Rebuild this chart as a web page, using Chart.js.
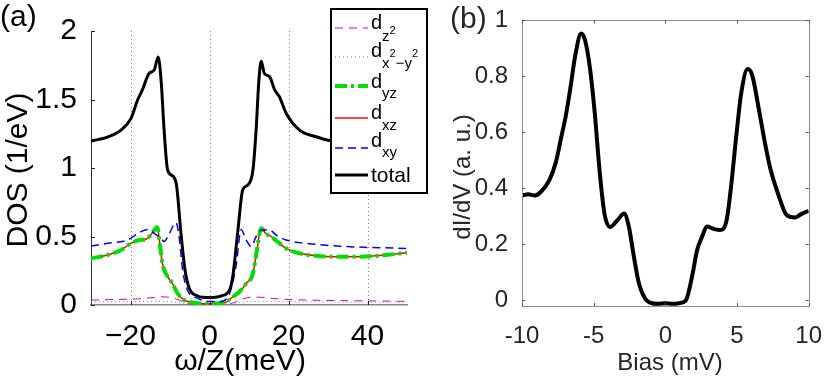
<!DOCTYPE html>
<html>
<head>
<meta charset="utf-8">
<script src="https://cdn.jsdelivr.net/npm/chart.js@4.4.1/dist/chart.umd.min.js"></script>
<style>
  html, body { margin: 0; padding: 0; background: #fff; }
  #wrap { position: relative; width: 830px; height: 379px; }
  #chartA { position: absolute; left: 0; top: 0; }
  #chartB { position: absolute; left: 415px; top: 0; }
</style>
</head>
<body>
<div id="wrap">
  <canvas id="chartA" width="440" height="379"></canvas>
  <canvas id="chartB" width="415" height="379"></canvas>
</div>
<script>
// ---- panel (a): orbital resolved DOS ----
const omegaTicks = [-20, 0, 20, 40];
const dosTicks = [0, 0.5, 1, 1.5, 2];

const totalX = [-30, -25.8, -22.4, -19.9, -18.2, -17, -15.3, -14, -13, -12.2, -11.5, -10.6, -9.1, -8.3, -7.3, -6.2, -5.1, -3, -1.5, 0,
  1.5, 3, 5.1, 5.9, 7.2, 8.4, 9.7, 11, 11.8, 12.5, 13.1, 13.9, 15.2, 16.5, 17.7, 19.4, 22.8, 27, 30.4, 35, 40, 45, 50];
const totalY = [1.197, 1.226, 1.277, 1.36, 1.496, 1.57, 1.69, 1.715, 1.81, 1.62, 1.28, 0.985, 0.937, 0.864, 0.547, 0.255, 0.12, 0.066, 0.056, 0.054,
  0.056, 0.066, 0.11, 0.21, 0.547, 0.84, 0.876, 0.985, 1.277, 1.64, 1.78, 1.69, 1.667, 1.57, 1.52, 1.40, 1.277, 1.228, 1.20, 1.19, 1.185, 1.18, 1.18];

// d_xz and d_yz lie on top of each other
const xzX = [-30, -25.8, -22.5, -19.9, -17.8, -16.1, -14.9, -13.2, -12.5, -11.9, -10.6, -9.4, -8.1, -6.4, -3.9, 0,
  3.9, 5.9, 7.6, 9.3, 11, 12, 13.1, 14.3, 15.6, 16.9, 19.4, 22.8, 27, 31.2, 38, 44.7, 50];
const xzY = [0.34, 0.365, 0.40, 0.45, 0.474, 0.48, 0.51, 0.567, 0.426, 0.30, 0.207, 0.158, 0.085, 0.036, 0.017, 0.01,
  0.017, 0.06, 0.097, 0.158, 0.23, 0.40, 0.56, 0.52, 0.50, 0.47, 0.413, 0.377, 0.36, 0.353, 0.353, 0.365, 0.382];

const xyX = [-30, -25.8, -20.8, -17.4, -15.7, -14, -12.3, -11.5, -10.2, -8.5, -7.7, -6.8, -5.6, -3, 0,
  2.5, 5.1, 6.8, 8, 9.3, 10.6, 11.8, 13.1, 15.2, 16.9, 19.4, 24.5, 35.4, 50];
const xyY = [0.43, 0.45, 0.474, 0.535, 0.552, 0.523, 0.486, 0.463, 0.52, 0.60, 0.50, 0.255, 0.11, 0.049, 0.025,
  0.025, 0.085, 0.30, 0.552, 0.474, 0.426, 0.50, 0.547, 0.547, 0.51, 0.474, 0.45, 0.426, 0.413];

const z2X = [-30, -24, -18, -14, -12, -10, -8, -6, -4, 0, 4, 6, 8, 10, 12, 13.5, 16, 20, 25, 30, 40, 50];
const z2Y = [0.036, 0.04, 0.045, 0.055, 0.06, 0.055, 0.04, 0.015, 0.003, 0, 0.003, 0.015, 0.04, 0.055, 0.058, 0.055, 0.048, 0.04, 0.036, 0.033, 0.03, 0.027];

const x2y2X = [-30, -20, -14, -10, -7, -5, -3, 0, 3, 5, 7, 10, 14, 20, 30, 40, 50];
const x2y2Y = [0.022, 0.024, 0.026, 0.024, 0.015, 0.005, 0.001, 0, 0.001, 0.005, 0.015, 0.024, 0.026, 0.024, 0.022, 0.02, 0.02];

// ---- panel (b): measured dI/dV ----
const biasTicks = [-10, -5, 0, 5, 10];
const didvTicks = [0, 0.2, 0.4, 0.6, 0.8, 1];
const biasX = [-10, -9.57, -9.1, -8.66, -8.1, -7.64, -7.3, -6.96, -6.62, -6.28, -5.87, -5.6, -5.26, -4.92, -4.58, -4.24, -3.86, -3.33, -2.88, -2.54,
  -2.2, -1.86, -1.4, -0.95, -0.5, 0, 0.5, 0.95, 1.43, 1.88, 2.22, 2.56, 2.9, 3.35, 3.81, 4.27, 4.6, 4.95, 5.29, 5.74, 6.07, 6.53, 6.99, 7.33,
  7.89, 8.46, 9.03, 9.48, 10];
const didvY = [0.375, 0.379, 0.375, 0.389, 0.429, 0.493, 0.574, 0.655, 0.76, 0.876, 0.953, 0.929, 0.830, 0.667, 0.459, 0.308, 0.262, 0.287, 0.31, 0.262,
  0.158, 0.065, 0.006, -0.01, -0.012, -0.01, -0.012, -0.01, 0, 0.089, 0.18, 0.227, 0.264, 0.256, 0.251, 0.285, 0.413, 0.587, 0.738, 0.826, 0.803, 0.681, 0.552, 0.47,
  0.377, 0.305, 0.296, 0.308, 0.32];

const FONT = '"Liberation Sans", Arial, sans-serif';

function pts(xs, ys) {
  return xs.map((x, i) => ({ x: x, y: ys[i] }));
}

function inwardTicks(ctx, scale, values, from, dir, len, horizontal) {
  values.forEach(v => {
    const p = Math.round(scale.getPixelForValue(v)) + 0.5;
    ctx.beginPath();
    if (horizontal) { ctx.moveTo(p, from); ctx.lineTo(p, from + dir * len); }
    else { ctx.moveTo(from, p); ctx.lineTo(from + dir * len, p); }
    ctx.stroke();
  });
}

// legend text with sub/superscripts: [text, baseline offset, font size]
function legendLabel(ctx, x, base, parts) {
  let cx = x;
  parts.forEach(p => {
    ctx.font = p[2] + 'px ' + FONT;
    ctx.fillText(p[0], cx, base + p[1]);
    cx += ctx.measureText(p[0]).width;
  });
}

const panelA = {
  id: 'panelA',
  beforeDatasetsDraw(chart) {
    const { ctx, chartArea: a, scales: { x } } = chart;
    ctx.save();
    ctx.strokeStyle = '#808080';
    ctx.lineWidth = 1;
    ctx.setLineDash([1, 3]);
    omegaTicks.forEach(v => {
      const px = Math.round(x.getPixelForValue(v)) + 0.5;
      ctx.beginPath(); ctx.moveTo(px, a.top); ctx.lineTo(px, a.bottom); ctx.stroke();
    });
    ctx.restore();
  },
  afterDraw(chart) {
    const { ctx, chartArea: a, scales: { x, y } } = chart;
    ctx.save();
    ctx.strokeStyle = '#222';
    ctx.lineWidth = 1;
    inwardTicks(ctx, x, omegaTicks, a.bottom, -1, 4, true);
    inwardTicks(ctx, y, dosTicks, a.left, 1, 4, false);

    ctx.fillStyle = '#000';
    ctx.font = '30px ' + FONT;
    ctx.textAlign = 'left';
    ctx.textBaseline = 'alphabetic';
    ctx.fillText('(a)', 0, 26);
    ctx.textAlign = 'center';
    ctx.textBaseline = 'middle';
    ctx.fillText('\u03c9/Z(meV)', 240, 362);
    ctx.save();
    ctx.translate(19, 170);
    ctx.rotate(-Math.PI / 2);
    ctx.fillText('DOS (1/eV)', 0, 0);
    ctx.restore();

    // legend box
    ctx.fillStyle = '#fff';
    ctx.fillRect(331, 9, 96, 184);
    ctx.strokeStyle = '#000';
    ctx.lineWidth = 2;
    ctx.strokeRect(331, 9, 96, 184);

    const rows = [
      { y: 28, color: '#cc00cc', w: 1, dash: [8, 6] },
      { y: 57, color: '#808080', w: 1, dash: [1, 3] },
      { y: 86, color: '#00e000', w: 4, dash: [12, 4, 3, 4] },
      { y: 118, color: '#ff0000', w: 1.5, dash: [] },
      { y: 148, color: '#0000ff', w: 1.5, dash: [8, 5] },
      { y: 175, color: '#000', w: 3, dash: [] }
    ];
    rows.forEach(r => {
      ctx.strokeStyle = r.color;
      ctx.lineWidth = r.w;
      ctx.setLineDash(r.dash);
      ctx.beginPath(); ctx.moveTo(335, r.y); ctx.lineTo(368, r.y); ctx.stroke();
    });
    ctx.setLineDash([]);
    ctx.fillStyle = '#000';
    ctx.textAlign = 'left';
    ctx.textBaseline = 'alphabetic';
    legendLabel(ctx, 371, 28.5, [['d', 0, 20], ['z', 12, 15], ['2', 5, 11]]);
    legendLabel(ctx, 371, 57, [['d', 0, 20], ['x', 10.5, 15], ['2', 0, 11], ['\u2212y', 10.5, 15], ['2', 0, 11]]);
    legendLabel(ctx, 371, 88, [['d', 0, 20], ['yz', 10, 15]]);
    legendLabel(ctx, 371, 118.5, [['d', 0, 20], ['xz', 11, 15]]);
    legendLabel(ctx, 371, 147, [['d', 0, 20], ['xy', 10, 15]]);
    legendLabel(ctx, 371, 182, [['total', 0, 21]]);
    ctx.restore();
  }
};

const panelB = {
  id: 'panelB',
  afterDraw(chart) {
    const { ctx, chartArea: a, scales: { x, y } } = chart;
    ctx.save();
    ctx.strokeStyle = '#8c8c8c';
    ctx.lineWidth = 1;
    ctx.strokeRect(Math.round(a.left) + 0.5, Math.round(a.top) + 0.5, Math.round(a.right - a.left), Math.round(a.bottom - a.top));
    ctx.strokeStyle = '#555';
    inwardTicks(ctx, x, biasTicks, a.bottom, -1, 3, true);
    inwardTicks(ctx, x, biasTicks, a.top, 1, 3, true);
    inwardTicks(ctx, y, didvTicks, a.left, 1, 3, false);
    inwardTicks(ctx, y, didvTicks, a.right, -1, 3, false);

    ctx.fillStyle = '#262626';
    ctx.font = '30px ' + FONT;
    ctx.textAlign = 'left';
    ctx.textBaseline = 'alphabetic';
    ctx.fillText('(b)', 35, 28);
    ctx.font = '24px ' + FONT;
    ctx.textAlign = 'center';
    ctx.textBaseline = 'middle';
    ctx.fillText('Bias (mV)', 255, 363);
    ctx.save();
    ctx.translate(48, 177);
    ctx.rotate(-Math.PI / 2);
    ctx.fillText('dI/dV (a. u.)', 0, 0);
    ctx.restore();
    ctx.restore();
  }
};

const lineBase = { pointRadius: 0, fill: false, cubicInterpolationMode: 'monotone' };

new Chart(document.getElementById('chartA'), {
  type: 'line',
  data: {
    datasets: [
      Object.assign({ label: 'total', data: pts(totalX, totalY), borderColor: '#000', borderWidth: 3 }, lineBase),
      Object.assign({ label: 'dxy', data: pts(xyX, xyY), borderColor: '#0000ff', borderWidth: 1.5, borderDash: [8, 5] }, lineBase),
      Object.assign({ label: 'dyz', data: pts(xzX, xzY), borderColor: '#00e000', borderWidth: 4, borderDash: [12, 4, 3, 4] }, lineBase),
      Object.assign({ label: 'dxz', data: pts(xzX, xzY), borderColor: '#ff0000', borderWidth: 1.5 }, lineBase),
      Object.assign({ label: 'dx2-y2', data: pts(x2y2X, x2y2Y), borderColor: '#808080', borderWidth: 1, borderDash: [1, 3] }, lineBase),
      Object.assign({ label: 'dz2', data: pts(z2X, z2Y), borderColor: '#cc00cc', borderWidth: 1, borderDash: [8, 6] }, lineBase)
    ]
  },
  options: {
    responsive: false,
    animation: false,
    devicePixelRatio: 1,
    layout: { padding: { left: 0, right: 33, top: 31, bottom: 0 } },
    plugins: { legend: { display: false }, tooltip: { enabled: false } },
    scales: {
      x: {
        type: 'linear', min: -30, max: 50,
        afterBuildTicks: s => { s.ticks = omegaTicks.map(v => ({ value: v })); },
        afterFit: s => { s.height = 74; },
        grid: { display: false },
        border: { color: '#888', width: 1.5 },
        ticks: { color: '#000', font: { family: FONT, size: 30 }, padding: 6, maxRotation: 0,
          callback: v => (v < 0 ? '\u2212' + Math.abs(v) : String(v)) }
      },
      y: {
        type: 'linear', min: 0, max: 2,
        afterBuildTicks: s => { s.ticks = dosTicks.map(v => ({ value: v })); },
        afterFit: s => { s.width = 91; },
        grid: { display: false },
        border: { color: '#333', width: 1 },
        ticks: { color: '#000', font: { family: FONT, size: 30 }, padding: 6, callback: v => String(v) }
      }
    }
  },
  plugins: [panelA]
});

new Chart(document.getElementById('chartB'), {
  type: 'line',
  data: {
    datasets: [
      Object.assign({ label: 'dI/dV', data: pts(biasX, didvY), borderColor: '#000', borderWidth: 4 }, lineBase)
    ]
  },
  options: {
    responsive: false,
    animation: false,
    devicePixelRatio: 1,
    layout: { padding: { left: 0, right: 14, top: 15, bottom: 0 } },
    plugins: { legend: { display: false }, tooltip: { enabled: false } },
    scales: {
      x: {
        type: 'linear', min: -10, max: 10,
        afterBuildTicks: s => { s.ticks = biasTicks.map(v => ({ value: v })); },
        afterFit: s => { s.height = 73; },
        grid: { display: false },
        border: { display: false },
        ticks: { color: '#262626', font: { family: FONT, size: 24 }, padding: 8, maxRotation: 0, callback: v => String(v) }
      },
      y: {
        type: 'linear', min: -0.02, max: 1,
        afterBuildTicks: s => { s.ticks = didvTicks.map(v => ({ value: v })); },
        afterFit: s => { s.width = 107; },
        grid: { display: false },
        border: { display: false },
        ticks: { color: '#262626', font: { family: FONT, size: 24 }, padding: 6, callback: v => String(v) }
      }
    }
  },
  plugins: [panelB]
});
</script>
</body>
</html>
